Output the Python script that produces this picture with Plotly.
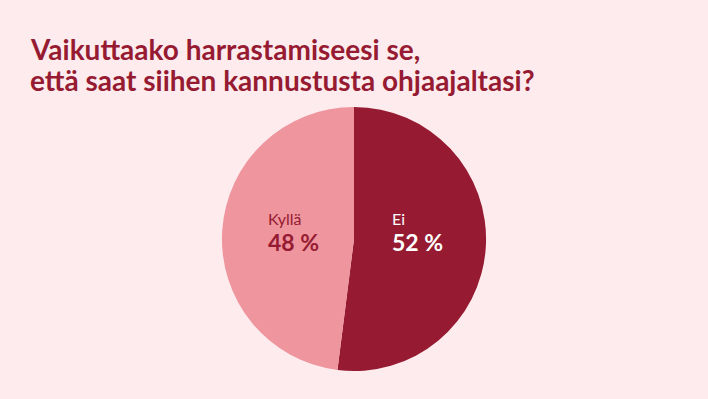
import math
import plotly.graph_objects as go

# Survey answers, in drawing order (clockwise from 12 o'clock)
answers = ["Ei", "Kyllä"]
shares = [52, 48]
slice_colors = ["#961b32", "#ee959d"]
label_colors = ["#ffffff", "#961b32"]

title_lines = [
    "Vaikuttaako harrastamiseesi se,",
    "että saat siihen kannustusta ohjaajaltasi?",
]

BG = "#fdebee"
FONT = "Lato, 'Open Sans', sans-serif"

W, H = 708, 399
cx, cy = 0.5, 0.401          # pie centre in paper coords
dom_y = (0.070, 0.732)
r_px = (dom_y[1] - dom_y[0]) * H / 2

fig = go.Figure(
    go.Pie(
        labels=answers,
        values=shares,
        sort=False,
        direction="clockwise",
        rotation=0,
        marker=dict(colors=slice_colors, line=dict(width=0)),
        textinfo="none",
        hoverinfo="skip",
        showlegend=False,
        domain=dict(x=[0, 1], y=list(dom_y)),
    )
)

# Labels centred along each slice's bisector, name above the value
total = sum(shares)
start = 0.0
for name, val, col in zip(answers, shares, label_colors):
    mid = start + val / 2
    ang = 2 * math.pi * mid / total
    start += val
    dx = math.sin(ang) * r_px * 0.47
    x = cx + dx / W
    left = x - 25 / W
    fig.add_annotation(
        x=left, y=1 - 218 / H, xref="paper", yref="paper",
        xanchor="left", yanchor="middle", showarrow=False, borderpad=0,
        text=name, font=dict(family=FONT, color=col, size=16),
    )
    fig.add_annotation(
        x=left, y=1 - 242 / H, xref="paper", yref="paper",
        xanchor="left", yanchor="middle", showarrow=False, borderpad=0,
        text=f"<b>{val} %</b>", font=dict(family=FONT, color=col, size=23),
    )

# Two-line heading, one annotation per line
for i, line in enumerate(title_lines):
    fig.add_annotation(
        x=29 / W, y=1 - (31 + 31 * i) / H, xref="paper", yref="paper",
        xanchor="left", yanchor="top", showarrow=False, borderpad=0,
        text=f"<b>{line}</b>",
        font=dict(family=FONT, color="#961b32", size=28),
    )

fig.update_layout(
    width=W, height=H,
    margin=dict(l=0, r=0, t=0, b=0),
    paper_bgcolor=BG, plot_bgcolor=BG,
)

fig.write_html("out.html")
